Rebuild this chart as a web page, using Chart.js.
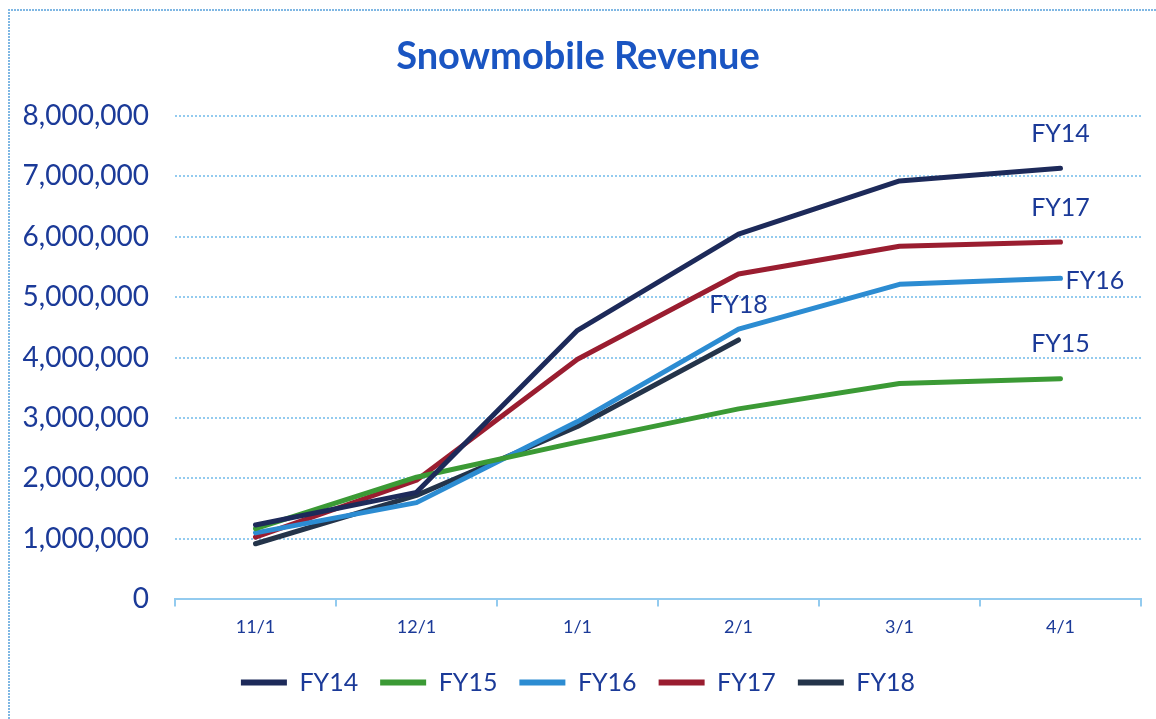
<!DOCTYPE html>
<html>
<head>
<meta charset="utf-8">
<title>Snowmobile Revenue</title>
<script src="https://cdn.jsdelivr.net/npm/chart.js@4.4.1/dist/chart.umd.min.js"></script>
<style>
    html, body { margin: 0; padding: 0; background: #ffffff; }
    #wrap { width: 1156px; height: 719px; position: relative; }
</style>
</head>
<body>
<div id="wrap"><canvas id="revenueChart" width="1156" height="719"></canvas></div>
<script>
// Data
const months = ["11/1", "12/1", "1/1", "2/1", "3/1", "4/1"];
const seriesNames = ["FY14", "FY15", "FY16", "FY17", "FY18"];
const fy14 = [1230000, 1770000, 4450000, 6040000, 6920000, 7130000];
const fy15 = [1170000, 2020000, 2600000, 3150000, 3570000, 3650000];
const fy16 = [1100000, 1600000, 2940000, 4470000, 5210000, 5310000];
const fy17 = [1030000, 1970000, 3970000, 5380000, 5840000, 5910000];
const fy18 = [920000, 1720000, 2860000, 4290000, null, null];
const yTicks = [0, 1000000, 2000000, 3000000, 4000000, 5000000, 6000000, 7000000, 8000000];

const colors = ["#1d2a5a", "#3b9a35", "#2c8cd2", "#9a1d30", "#24344a"];
const textBlue = "#1b3a98";
const gridBlue = "#93cbef";
const font = "Lato, 'Open Sans', sans-serif";

// where each end label sits relative to the last point of its line
const endLabelOffsets = [
    { dx: 0, dy: -34, align: "center" },
    { dx: 0, dy: -35, align: "center" },
    { dx: 5, dy: 3, align: "left" },
    { dx: 0, dy: -34, align: "center" },
    { dx: 0, dy: -35, align: "center" }
];

const endLabels = {
    id: "endLabels",
    afterDatasetsDraw(chart) {
        const ctx = chart.ctx;
        ctx.save();
        ctx.font = "25px " + font;
        ctx.fillStyle = textBlue;
        ctx.textBaseline = "middle";
        chart.data.datasets.forEach((ds, i) => {
            const meta = chart.getDatasetMeta(i);
            let last = ds.data.length - 1;
            while (last > 0 && ds.data[last] == null) last--;
            const pt = meta.data[last];
            const off = endLabelOffsets[i];
            ctx.textAlign = off.align;
            ctx.fillText(ds.label, pt.x + off.dx, pt.y + off.dy);
        });
        ctx.restore();
    }
};

const frame = {
    id: "frame",
    beforeDraw(chart) {
        const ctx = chart.ctx;
        ctx.save();
        ctx.fillStyle = "#ffffff";
        ctx.fillRect(0, 0, chart.width, chart.height);
        ctx.strokeStyle = "#7fb7e3";
        ctx.lineWidth = 2;
        ctx.setLineDash([2, 1]);
        ctx.beginPath();
        ctx.moveTo(9, chart.height);
        ctx.lineTo(9, 10);
        ctx.lineTo(chart.width, 10);
        ctx.stroke();
        ctx.restore();
    }
};

const allSeries = [fy14, fy15, fy16, fy17, fy18];

new Chart(document.getElementById("revenueChart").getContext("2d"), {
    type: "line",
    data: {
        labels: months,
        datasets: seriesNames.map((name, i) => ({
            label: name,
            data: allSeries[i],
            borderColor: colors[i],
            backgroundColor: colors[i],
            borderWidth: 5,
            borderCapStyle: "round",
            borderJoinStyle: "round",
            pointRadius: 0,
            tension: 0,
            fill: false
        }))
    },
    options: {
        responsive: false,
        animation: false,
        layout: { padding: { left: 15, right: 15, top: 18, bottom: 14 } },
        plugins: {
            title: {
                display: true,
                text: "Snowmobile Revenue",
                color: "#1a55c2",
                font: { family: font, size: 38, weight: "bold" },
                padding: { top: 16, bottom: 36 }
            },
            legend: {
                position: "bottom",
                labels: {
                    color: textBlue,
                    font: { family: font, size: 25 },
                    boxWidth: 46,
                    boxHeight: 6,
                    padding: 22,
                    useBorderRadius: true,
                    borderRadius: 3,
                    generateLabels(chart) {
                        return chart.data.datasets.map((ds, i) => ({
                            text: ds.label,
                            fillStyle: ds.borderColor,
                            strokeStyle: ds.borderColor,
                            lineWidth: 0,
                            fontColor: textBlue,
                            datasetIndex: i
                        }));
                    }
                }
            },
            tooltip: { enabled: false }
        },
        scales: {
            x: {
                offset: true,
                grid: {
                    offset: true,
                    drawOnChartArea: false,
                    drawTicks: true,
                    tickLength: 7,
                    color: gridBlue,
                    lineWidth: 2
                },
                border: { display: true, color: gridBlue, width: 2, dash: [2, 2] },
                ticks: {
                    color: textBlue,
                    font: { family: font, size: 18 },
                    padding: 10
                }
            },
            y: {
                min: 0,
                max: 8000000,
                afterBuildTicks(scale) {
                    scale.ticks = yTicks.map(v => ({ value: v }));
                },
                afterFit(scale) {
                    scale.width = 160;
                },
                grid: {
                    color: gridBlue,
                    lineWidth: 2,
                    drawTicks: false
                },
                border: { display: false, dash: [2, 2] },
                ticks: {
                    color: textBlue,
                    font: { family: font, size: 28 },
                    padding: 26,
                    callback: v => v.toLocaleString("en-US")
                }
            }
        }
    },
    plugins: [frame, endLabels]
});
</script>
</body>
</html>
